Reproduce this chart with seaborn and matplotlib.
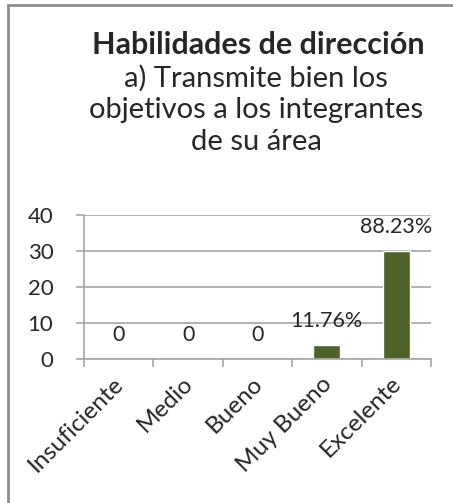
import matplotlib
matplotlib.use("Agg")
import matplotlib.pyplot as plt
import matplotlib.patches as mpatches
import matplotlib.transforms as mtransforms
import seaborn as sns
import pandas as pd

# ── Data ──────────────────────────────────────────────────────────────────────
categories = ["Insuficiente", "Medio", "Bueno", "Muy Bueno", "Excelente"]
values = [0, 0, 0, 4, 30]
bar_labels = ["0", "0", "0", "11.76%", "88.23%"]
y_ticks = [0, 10, 20, 30, 40]

title_bold = "Habilidades de dirección"
title_lines = ["a) Transmite bien los", "objetivos a los integrantes", "de su área"]

BAR_COLOR = "#4F6228"
GRID_COLOR = "#A6A6A6"
FONT = "Lato"

sns.set_theme(style="white")
plt.rcParams["font.family"] = [FONT, "DejaVu Sans"]

fig = plt.figure(figsize=(4.53, 5.03), dpi=100)
ax = fig.add_axes([0.1854, 0.2863, 0.766, 0.2863])

df = pd.DataFrame({"cat": categories, "val": values})
sns.barplot(data=df, x="cat", y="val", color=BAR_COLOR, width=0.39,
            saturation=1, ax=ax)

ax.set_ylim(0, 40)
ax.set_xlim(-0.5, len(categories) - 0.5)
ax.set_yticks(y_ticks)
ax.set_yticklabels([str(t) for t in y_ticks], fontsize=16)
ax.yaxis.grid(True, color=GRID_COLOR, linewidth=1.2)
ax.set_axisbelow(True)
ax.set_xlabel("")
ax.set_ylabel("")

for side in ["top", "right"]:
    ax.spines[side].set_visible(False)
for side in ["left", "bottom"]:
    ax.spines[side].set_color(GRID_COLOR)
    ax.spines[side].set_linewidth(1.2)

# category labels centred on bars, tick marks between categories
ax.set_xticks(range(len(categories)))
ax.set_xticklabels(categories, rotation=45, ha="right", va="top",
                   rotation_mode="anchor", fontsize=17.5)
ax.tick_params(axis="x", which="major", length=0, pad=10)
shift = mtransforms.ScaledTranslation(-6 / 100, 0, fig.dpi_scale_trans)
for lab in ax.get_xticklabels():
    lab.set_transform(lab.get_transform() + shift)
ax.set_xticks([i - 0.5 for i in range(len(categories) + 1)], minor=True)
ax.tick_params(axis="x", which="minor", length=6, width=1.2,
               color=GRID_COLOR, bottom=True)
ax.tick_params(axis="y", length=6, width=1.2, color=GRID_COLOR, left=True,
               pad=16)

# data labels
for i, (v, lab) in enumerate(zip(values, bar_labels)):
    ax.annotate(lab, (i, v), xytext=(0, 17), textcoords="offset points",
                ha="center", va="center", fontsize=15.5)

# title block
fig.text(0.570, 1 - 45 / 503, title_bold, ha="center", va="center",
         fontsize=22, fontweight="bold")
for k, line in enumerate(title_lines):
    fig.text(0.565, 1 - (78 + 32 * k) / 503, line, ha="center", va="center",
             fontsize=21)

# chart-area border (cropped on right/bottom in the original)
fig.patches.append(mpatches.Rectangle((8 / 453, -0.1), 1.2, 1 - 5 / 503 + 0.1,
                                      transform=fig.transFigure, fill=False,
                                      edgecolor="#8C8C8C", linewidth=2))

fig.savefig("out.png", dpi=100)
